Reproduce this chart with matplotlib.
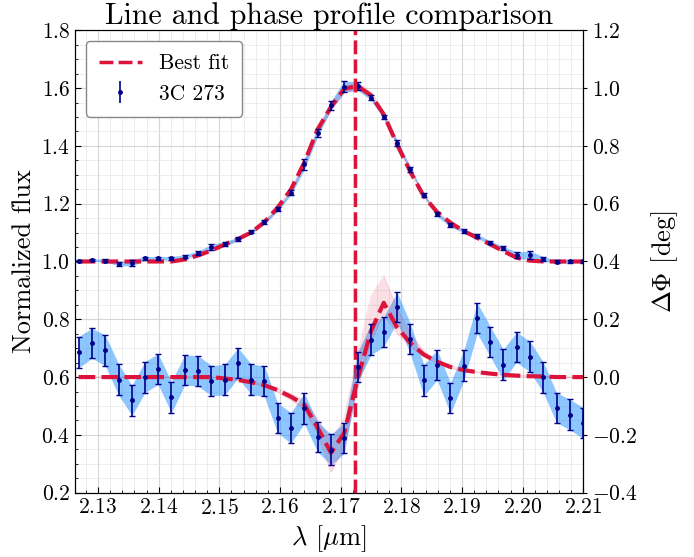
import numpy as np
import matplotlib.pyplot as plt
from matplotlib.ticker import MultipleLocator
from matplotlib.lines import Line2D

plt.rcParams['font.family'] = 'serif'
plt.rcParams['font.serif'] = ['cmr10']
plt.rcParams['mathtext.fontset'] = 'cm'
plt.rcParams['axes.formatter.use_mathtext'] = True
plt.rcParams['axes.unicode_minus'] = True

# wavelength grid [micron]
wave = [2.1268, 2.1290, 2.1312, 2.1334, 2.1356, 2.1377, 2.1399, 2.1421, 2.1443, 2.1465,
        2.1487, 2.1509, 2.1531, 2.1553, 2.1574, 2.1596, 2.1618, 2.1640, 2.1662, 2.1684,
        2.1706, 2.1728, 2.1750, 2.1771, 2.1793, 2.1815, 2.1837, 2.1859, 2.1881, 2.1903,
        2.1925, 2.1947, 2.1968, 2.1990, 2.2012, 2.2034, 2.2056, 2.2078, 2.2100]

# normalized flux, data and errors
flux = [1.001, 1.005, 1.003, 0.992, 0.995, 1.011, 1.011, 1.011, 1.017, 1.029,
        1.050, 1.061, 1.078, 1.103, 1.136, 1.180, 1.238, 1.336, 1.446, 1.540,
        1.605, 1.607, 1.567, 1.501, 1.411, 1.319, 1.230, 1.163, 1.127, 1.105,
        1.088, 1.065, 1.046, 1.022, 1.022, 1.009, 0.999, 1.000, 1.000]
flux_err = [0.004, 0.004, 0.005, 0.006, 0.011, 0.006, 0.006, 0.006, 0.006, 0.007,
            0.009, 0.008, 0.006, 0.006, 0.007, 0.007, 0.008, 0.019, 0.014, 0.016,
            0.020, 0.014, 0.009, 0.007, 0.011, 0.008, 0.006, 0.007, 0.007, 0.006,
            0.007, 0.006, 0.006, 0.011, 0.014, 0.008, 0.005, 0.004, 0.004]

# differential phase [deg], data and errors
phase = [0.086, 0.117, 0.092, -0.009, -0.081, -0.001, 0.028, -0.070, 0.025, 0.021,
         -0.012, -0.009, 0.049, -0.009, -0.013, -0.141, -0.176, -0.108, -0.207, -0.251,
         -0.211, 0.035, 0.130, 0.157, 0.242, 0.132, -0.011, 0.042, -0.073, 0.040,
         0.204, 0.122, 0.043, 0.103, 0.071, -0.001, -0.106, -0.130, -0.159]
phase_err = [0.054, 0.052, 0.053, 0.054, 0.052, 0.054, 0.053, 0.054, 0.052, 0.053,
             0.052, 0.053, 0.052, 0.053, 0.053, 0.052, 0.053, 0.053, 0.052, 0.053,
             0.053, 0.052, 0.053, 0.052, 0.052, 0.053, 0.054, 0.052, 0.053, 0.052,
             0.053, 0.052, 0.053, 0.052, 0.053, 0.053, 0.052, 0.053, 0.053]

# best fit model
fit_flux = [1.000, 1.000, 1.000, 1.000, 1.000, 1.000, 1.000, 1.000, 1.007, 1.021,
            1.038, 1.059, 1.078, 1.101, 1.136, 1.186, 1.249, 1.342, 1.457, 1.535,
            1.598, 1.607, 1.575, 1.509, 1.405, 1.310, 1.226, 1.171, 1.134, 1.105,
            1.082, 1.059, 1.036, 1.013, 1.003, 1.000, 1.000, 1.000, 1.000]
fit_phase = [0.000, 0.000, 0.000, 0.000, 0.000, 0.000, 0.000, 0.000, 0.000, 0.000,
             0.000, -0.005, -0.010, -0.018, -0.028, -0.045, -0.068, -0.095, -0.175, -0.262,
             -0.193, -0.005, 0.159, 0.257, 0.172, 0.118, 0.078, 0.053, 0.035, 0.024,
             0.017, 0.012, 0.008, 0.005, 0.003, 0.002, 0.000, 0.000, 0.000]

# spread of the posterior samples around the fit
samp_phase_hi = [0.000, 0.000, 0.000, 0.000, 0.000, 0.000, 0.000, 0.000, 0.000, 0.000,
                 0.000, -0.004, -0.008, -0.015, -0.024, -0.038, -0.058, -0.080, -0.145, -0.220,
                 -0.140, 0.080, 0.280, 0.350, 0.240, 0.150, 0.090, 0.060, 0.040, 0.027,
                 0.019, 0.013, 0.009, 0.006, 0.003, 0.002, 0.000, 0.000, 0.000]
samp_phase_lo = [0.000, 0.000, 0.000, 0.000, 0.000, 0.000, 0.000, 0.000, 0.000, 0.000,
                 0.000, -0.006, -0.012, -0.021, -0.032, -0.052, -0.080, -0.112, -0.200, -0.330,
                 -0.240, -0.040, 0.120, 0.220, 0.150, 0.105, 0.070, 0.048, 0.031, 0.021,
                 0.015, 0.011, 0.007, 0.004, 0.003, 0.002, 0.000, 0.000, 0.000]
samp_flux_hi = [1.000, 1.000, 1.000, 1.000, 1.000, 1.000, 1.000, 1.000, 1.008, 1.023,
                1.041, 1.063, 1.083, 1.107, 1.143, 1.194, 1.258, 1.352, 1.468, 1.548,
                1.612, 1.622, 1.590, 1.522, 1.416, 1.319, 1.233, 1.177, 1.138, 1.108,
                1.084, 1.061, 1.038, 1.015, 1.004, 1.000, 1.000, 1.000, 1.000]
samp_flux_lo = [1.000, 1.000, 1.000, 1.000, 1.000, 1.000, 1.000, 1.000, 1.006, 1.019,
                1.035, 1.055, 1.073, 1.095, 1.129, 1.178, 1.240, 1.332, 1.446, 1.522,
                1.584, 1.594, 1.562, 1.497, 1.395, 1.301, 1.219, 1.165, 1.130, 1.102,
                1.080, 1.057, 1.034, 1.011, 1.002, 1.000, 1.000, 1.000, 1.000]

line_center = 2.1724

red = '#DC143C'
blue = 'dodgerblue'
navy = '#00008B'
dash = (0, (4, 1.5))

fig = plt.figure(figsize=(6.94, 5.57), dpi=100)
ax = fig.add_axes([0.108, 0.1155, 0.7325, 0.8301])
ax2 = ax.twinx()

flux = np.array(flux)
flux_err = np.array(flux_err)
phase = np.array(phase)
phase_err = np.array(phase_err)

# flux
ax.fill_between(wave, flux - flux_err, flux + flux_err, color=blue, alpha=0.5, lw=0, zorder=2)
ax.fill_between(wave, samp_flux_lo, samp_flux_hi, color=red, alpha=0.15, lw=0, zorder=3)
ax.plot(wave, fit_flux, color=red, ls=dash, lw=3, zorder=4)
ax.errorbar(wave, flux, yerr=flux_err, fmt='o', ms=2.5, color=navy, ecolor=navy,
            elinewidth=1.2, capsize=2, capthick=1, zorder=5)
ax.axvline(line_center, color=red, ls=dash, lw=2.5, zorder=6)

# phase
ax2.fill_between(wave, phase - phase_err, phase + phase_err, color=blue, alpha=0.5, lw=0, zorder=2)
ax2.fill_between(wave, samp_phase_lo, samp_phase_hi, color=red, alpha=0.13, lw=0, zorder=3)
ax2.plot(wave, samp_phase_hi, color=red, lw=0.6, alpha=0.15, zorder=3)
ax2.plot(wave, samp_phase_lo, color=red, lw=0.6, alpha=0.15, zorder=3)
ax2.plot(wave, fit_phase, color=red, ls=dash, lw=3, zorder=4)
ax2.errorbar(wave, phase, yerr=phase_err, fmt='o', ms=2.5, color=navy, ecolor=navy,
             elinewidth=1.2, capsize=2, capthick=1, zorder=5)

ax.set_xlim(2.1262, 2.2100)
ax.set_ylim(0.2, 1.8)
ax2.set_ylim(-0.4, 1.2)

ax.xaxis.set_major_locator(MultipleLocator(0.01))
ax.xaxis.set_minor_locator(MultipleLocator(0.002))
ax.yaxis.set_major_locator(MultipleLocator(0.2))
ax.yaxis.set_minor_locator(MultipleLocator(0.05))
ax2.yaxis.set_major_locator(MultipleLocator(0.2))
ax.xaxis.set_major_formatter(plt.FuncFormatter(lambda v, p: '$%.2f$' % v))
ax.yaxis.set_major_formatter(plt.FuncFormatter(lambda v, p: '$%.1f$' % v))
ax2.yaxis.set_major_formatter(plt.FuncFormatter(lambda v, p: '$%.1f$' % v))

ax.tick_params(which='both', direction='in', labelsize=15.5)
ax.tick_params(which='major', length=4)
ax.tick_params(which='minor', length=2.5)
ax2.tick_params(labelsize=15.5, length=3)

ax.grid(which='major', color='#cccccc', lw=0.8, alpha=0.8)
ax.grid(which='minor', color='#e6e6e6', lw=0.6, alpha=0.8)
ax.set_axisbelow(True)

ax.set_xlabel(r'$\lambda$ [$\mu$m]', fontsize=19)
ax.set_ylabel('Normalized flux', fontsize=19)
ax2.set_ylabel(r'$\Delta\Phi$ [deg]', fontsize=19, labelpad=8)
ax.set_title('Line and phase profile comparison', fontsize=21.5, pad=4)

h_fit = Line2D([], [], color=red, ls=dash, lw=2.5)
h_dat = ax.errorbar([], [], yerr=[], fmt='o', ms=2.5, color=navy, elinewidth=1.2, capsize=2)
leg = ax.legend([h_fit, h_dat], ['Best fit', '3C 273'], loc='upper left', fontsize=15.5,
                fancybox=True, framealpha=1, edgecolor='#888888', borderpad=0.6,
                handlelength=2.0, labelspacing=0.5)
leg.set_zorder(10)

fig.savefig('out.png', dpi=100)
